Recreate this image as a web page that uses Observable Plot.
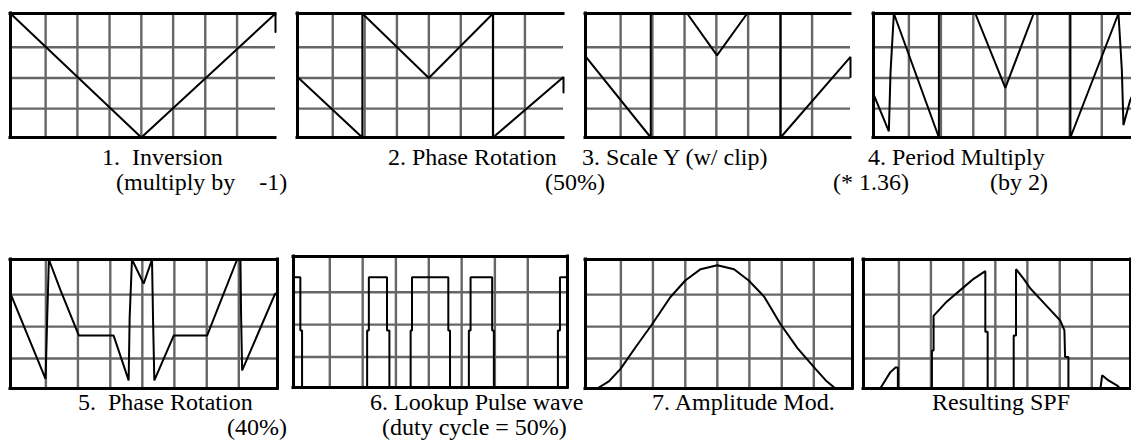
<!DOCTYPE html>
<html><head><meta charset="utf-8">
<script src="https://cdn.jsdelivr.net/npm/d3@7"></script>
<script src="https://cdn.jsdelivr.net/npm/@observablehq/plot@0.6"></script>
<style>
html,body{margin:0;padding:0;background:#fff;}
body{width:1131px;height:441px;overflow:hidden;position:relative;}
.lbl{position:absolute;font-family:"Liberation Serif","Times New Roman",serif;font-size:24px;line-height:24px;white-space:pre;color:#000;}
</style></head><body>
<script>
// grid line positions (in panel units: 8 columns x 4 rows)
const gridX = [1.06, 2.02, 2.99, 3.95, 4.91, 5.88, 6.84];
const gridY = [0.93, 1.92, 2.91];

// waveforms, [x, y]
const wave1 = [[0,4],[3.95,0],[8,4],[8,3.4]];
const wave2 = [[0,1.95],[1.95,0],[1.95,4],[3.95,1.92],[5.88,4],[5.88,0],[8,1.95],[8,1.45]];
const wave3 = [[0,2.62],[1.97,0],[1.97,4],[3.07,4],[3.97,2.65],[4.88,4],[5.89,4],[5.89,0],[8,2.6],[8,1.95]];
const wave4 = [[0,1.4],[0.46,0.2],[0.51,2.1],[0.61,4],[1.96,0],[1.96,4],[3.05,4],[3.95,1.6],[4.8,4],[5.9,4],[5.9,0],[7.34,4],[7.44,2.2],[7.49,0.4],[7.69,1.2],[7.9,1.7]];
const wave5 = [[0,2.94],[1.05,0.3],[1.1,2.2],[1.15,4],[1.5,3.04],[2.05,1.64],[3.09,1.64],[3.54,0.25],[3.57,2.2],[3.64,4],[3.99,3.25],[4.24,4],[4.27,2.2],[4.31,0.25],[4.89,1.64],[5.89,1.64],[6.79,4],[6.89,4],[6.91,2.2],[6.94,0.56],[7.93,2.94],[8,2.94]];
const wave6 = [[0,3.37],[0.2,3.37],[0.2,1.74],[0.25,1.74],[0.25,0],[2.15,0],[2.15,1.74],[2.2,1.74],[2.2,3.37],[2.73,3.37],[2.73,1.74],[2.8,1.74],[2.8,0],[3.42,0],[3.42,1.74],[3.46,1.74],[3.46,3.37],[4.52,3.37],[4.52,1.74],[4.57,1.74],[4.57,0],[5.12,0],[5.12,1.74],[5.17,1.74],[5.17,3.37],[5.8,3.37],[5.8,1.74],[5.85,1.74],[5.85,0],[7.72,0],[7.72,1.74],[7.78,1.74],[7.78,3.37],[8,3.37]];
const wave7 = [[0,0],[0.35,0],[0.7,0.22],[1.05,0.61],[1.5,1.28],[2.0,2.0],[2.54,2.83],[2.99,3.35],[3.45,3.7],[3.95,3.82],[4.45,3.7],[4.89,3.35],[5.35,2.85],[5.84,2.0],[6.35,1.25],[6.89,0.61],[7.2,0.25],[7.49,0],[8,0]];
const wave8 = [[0,0],[0.5,0],[0.65,0.25],[0.8,0.5],[0.96,0.65],[1.03,0.65],[1.03,0],[2.05,0],[2.05,1.18],[2.1,1.18],[2.1,2.25],[2.5,2.7],[2.9,3.05],[3.3,3.4],[3.65,3.64],[3.65,1.76],[3.72,1.76],[3.72,0],[4.5,0],[4.5,1.64],[4.57,1.64],[4.57,3.7],[4.8,3.4],[5.0,3.1],[5.45,2.6],[5.9,2.1],[6.02,1.8],[6.04,0.98],[6.14,0.98],[6.14,0],[7.1,0],[7.15,0.41],[7.34,0.25],[7.59,0.1],[7.69,0],[8,0]];

const labels = ["1.  Inversion","(multiply by    -1)","2. Phase Rotation","(50%)","3. Scale Y (w/ clip)","(* 1.36)","4. Period Multiply","(by 2)","5.  Phase Rotation","(40%)","6. Lookup Pulse wave","(duty cycle = 50%)","7. Amplitude Mod.","Resulting SPF"];

// layout
const panels = [
  {data: wave1, left: 10,  top: 13,  w: 265, h: 124, closed: false},
  {data: wave2, left: 297, top: 13,  w: 266, h: 124, closed: false},
  {data: wave3, left: 585, top: 13,  w: 265, h: 124, closed: false},
  {data: wave4, left: 873, top: 13,  w: 267, h: 124, closed: false},
  {data: wave5, left: 10,  top: 259, w: 267, h: 129, closed: true},
  {data: wave6, left: 293, top: 256, w: 274, h: 131, closed: true},
  {data: wave7, left: 585, top: 259, w: 267, h: 129, closed: true},
  {data: wave8, left: 863, top: 259, w: 267, h: 129, closed: true}
];
const labelPos = [[102,165],[116,190],[388,165],[545,190],[582,165],[833,190],[868,165],[990,190],[78,410],[227,435],[370,410],[382,435],[652,410],[932,410]];

const pad = 4;
for (const p of panels) {
  const chart = Plot.plot({
    width: p.w + 2*pad, height: p.h + 2*pad,
    margin: 0,
    style: {background: "transparent"},
    x: {domain: [0, 8], range: [pad, pad + p.w], axis: null},
    y: {domain: [0, 4], range: [pad + p.h, pad], axis: null},
    marks: [
      Plot.ruleX(gridX, {y1: 0, y2: 4, stroke: "#666", strokeWidth: 2.4}),
      Plot.ruleY(gridY, {x1: 0, x2: 8, stroke: "#666", strokeWidth: 2.4}),
      Plot.ruleY([0, 4], {x1: 0, x2: 8, stroke: "#000", strokeWidth: 3, strokeLinecap: "square"}),
      Plot.ruleX(p.closed ? [0, 8] : [0], {y1: 0, y2: 4, stroke: "#000", strokeWidth: 3, strokeLinecap: "square"}),
      Plot.line(p.data, {x: d => d[0], y: d => d[1], stroke: "#000", strokeWidth: 2, strokeLinejoin: "miter"})
    ]
  });
  chart.style.position = "absolute";
  chart.style.left = (p.left - pad) + "px";
  chart.style.top = (p.top - pad) + "px";
  chart.style.maxWidth = "none";
  document.body.appendChild(chart);
}

labels.forEach((t, i) => {
  const d = document.createElement("div");
  d.className = "lbl";
  d.textContent = t;
  d.style.left = labelPos[i][0] + "px";
  d.style.top = (labelPos[i][1] - 20.1) + "px";
  document.body.appendChild(d);
});
</script>
</body></html>
